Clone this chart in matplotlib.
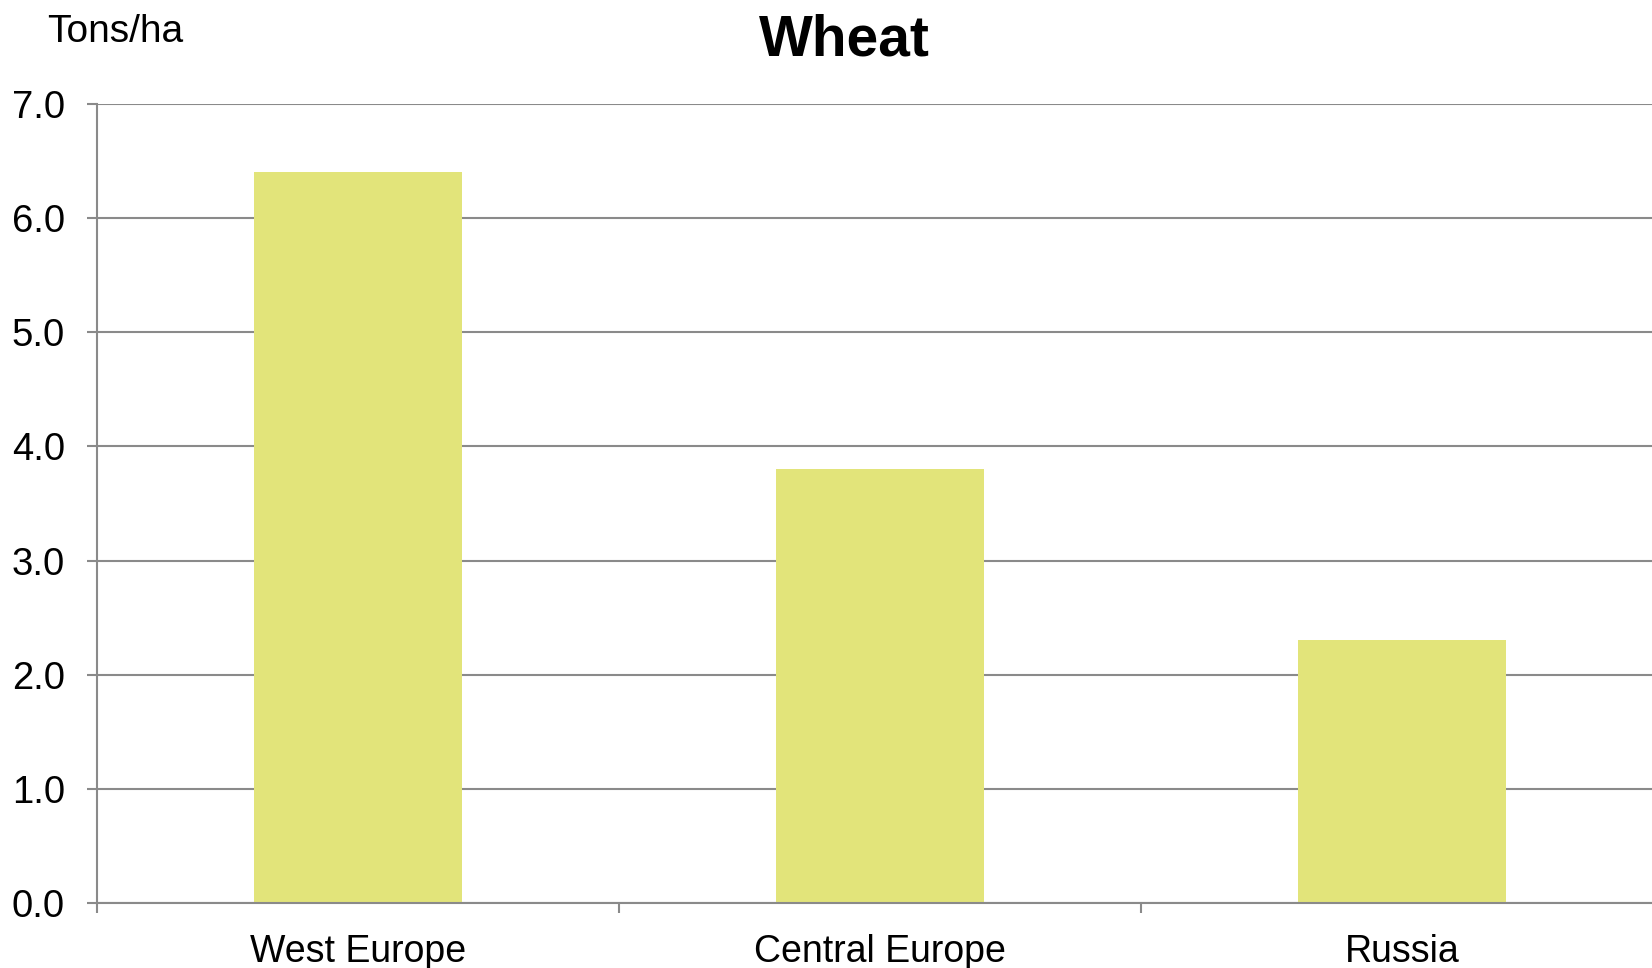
import matplotlib
matplotlib.use("Agg")
import matplotlib.pyplot as plt
from matplotlib.ticker import FixedLocator, FormatStrFormatter

plt.rcParams['font.family'] = ['Liberation Sans', 'DejaVu Sans']

categories = ["West Europe", "Central Europe", "Russia"]
values = [6.4, 3.8, 2.3]
y_ticks = [0, 1, 2, 3, 4, 5, 6, 7]

bar_color = "#E2E47A"
grid_color = "#8A8A8A"

fig = plt.figure(figsize=(16.52, 9.68), dpi=100)
ax = fig.add_axes([97/1652, 65/968, 1566/1652, 799/968])

x = list(range(len(categories)))
ax.bar(x, values, width=0.4, color=bar_color, zorder=3)

ax.set_xlim(-0.5, len(categories) - 0.5)
ax.set_ylim(0, 7)

ax.yaxis.set_major_locator(FixedLocator(y_ticks))
ax.yaxis.set_major_formatter(FormatStrFormatter('%.1f'))
ax.grid(axis='y', color=grid_color, linewidth=1.5, zorder=0)

ax.set_xticks(x)
ax.set_xticklabels(categories)
ax.set_xticks([-0.5 + i for i in range(len(categories) + 1)], minor=True)

ax.tick_params(axis='x', which='major', length=0, pad=22, labelsize=27)
ax.tick_params(axis='x', which='minor', length=7, width=1.5, color=grid_color, direction='out')
ax.tick_params(axis='y', which='major', length=7, width=1.5, color=grid_color,
               direction='out', pad=16, labelsize=27.5)

for s in ['top', 'right']:
    ax.spines[s].set_visible(False)
for s in ['left', 'bottom']:
    ax.spines[s].set_color(grid_color)
    ax.spines[s].set_linewidth(1.5)
ax.spines['bottom'].set_zorder(4)

fig.text(844/1652, 1 - 55/968, "Wheat", ha='center', va='baseline',
         fontsize=41, fontweight='bold')
fig.text(47/1652, 1 - 42/968, "Tons/ha", ha='left', va='baseline', fontsize=28)

fig.savefig("out.png", dpi=100)
